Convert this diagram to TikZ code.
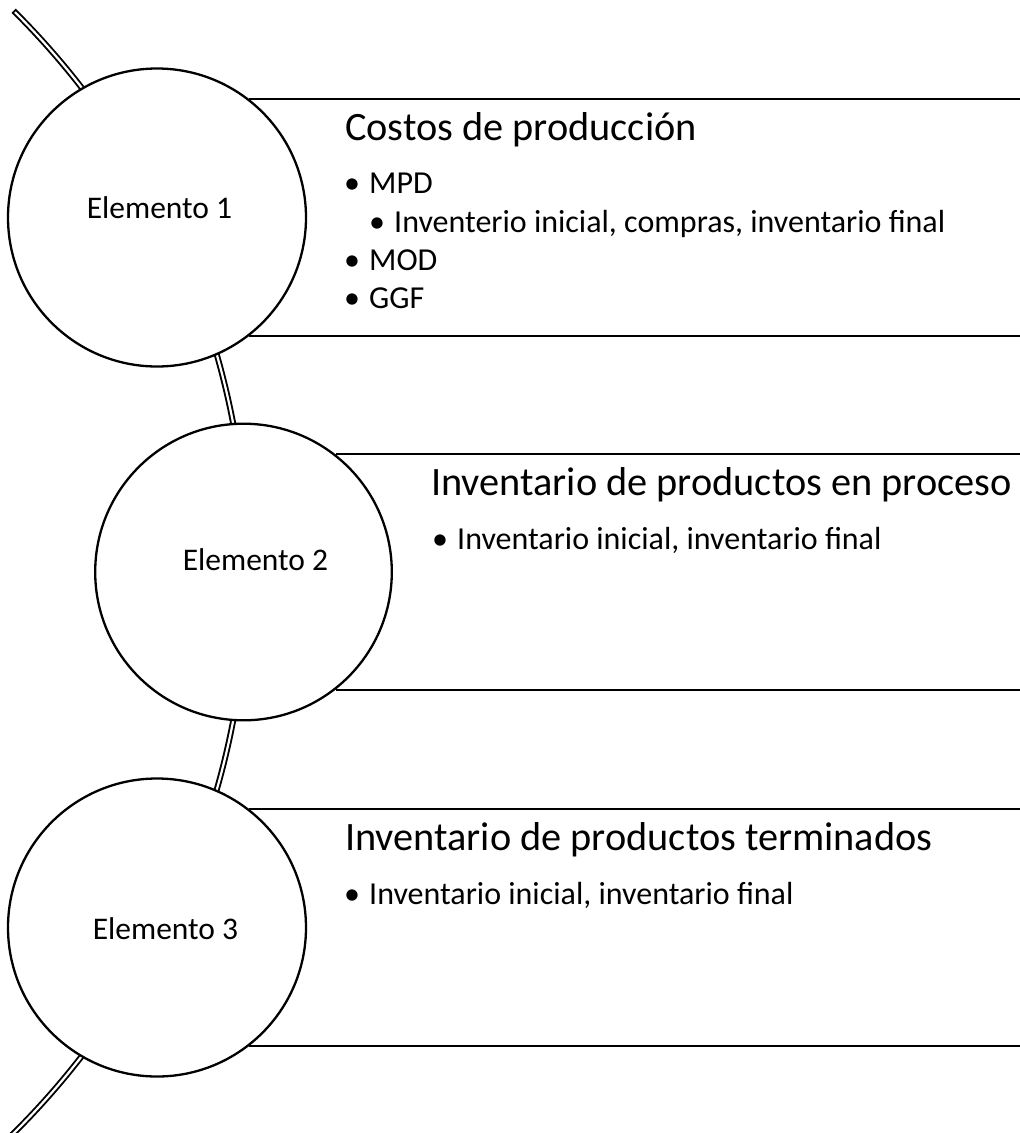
\documentclass[tikz,border=0pt]{standalone}
\usepackage{fontspec}
\setmainfont{Carlito}
\newcommand{\mybul}{\makebox[25pt][l]{\textbullet}}
\begin{document}
\begin{tikzpicture}[x=1pt,y=-1pt,
  elem/.style={circle,draw=black,line width=2.3pt,fill=white,inner sep=0pt},
  elemtext/.style={anchor=base,inner sep=0pt,font=\fontsize{31.5}{37}\selectfont},
  ttl/.style={anchor=base west,inner sep=0pt,font=\fontsize{40.3}{47}\selectfont},
  itm/.style={anchor=base west,inner sep=0pt,font=\fontsize{32}{38}\selectfont},
  rule/.style={line width=2.3pt,draw=black},
  railout/.style={line width=6pt,draw=black},
  railin/.style={line width=2.2pt,draw=white}]
\useasboundingbox (0,0) rectangle (1020,1133);
\clip (0,0) rectangle (1020,1133);

% curved double rail behind the circles
\coordinate (ac) at (-543.7,572);
\draw[railout] (ac) ++(-45.2:791) arc[start angle=-45.2,end angle=45.6,radius=791];
\draw[railin] (ac) ++(-45.06:791) arc[start angle=-45.06,end angle=45.6,radius=791];

% circles
\node[elem,minimum size=298pt] (c1) at (157,217.5) {};
\node[elem,minimum size=296.6pt] (c2) at (243.5,572) {};
\node[elem,minimum size=298pt] (c3) at (157,927.5) {};

\node[elemtext] (e1) at (159.5,218) {Elemento 1};
\node[elemtext] (e2) at (255.5,570) {Elemento 2};
\node[elemtext] (e3) at (165.5,939) {Elemento 3};

% horizontal rules
\coordinate (re) at (1020,0);
\draw[rule] (c1.52.9) -- (c1.52.9 -| re);
\draw[rule] (c1.-52.9) -- (c1.-52.9 -| re);
\draw[rule] (c2.52.7) -- (c2.52.7 -| re);
\draw[rule] (c2.-52.7) -- (c2.-52.7 -| re);
\draw[rule] (c3.52.9) -- (c3.52.9 -| re);
\draw[rule] (c3.-52.9) -- (c3.-52.9 -| re);

% titles
\node[ttl] (t1) at (345,140) {Costos de producción};
\node[ttl] (t2) at (431,495) {Inventario de productos en proceso};
\node[ttl] (t3) at (345,850) {Inventario de productos terminados};

% bullets
\node[itm] (b11) at (344,193) {\mybul MPD};
\node[itm] (b12) at (369,232) {\mybul Inventerio inicial, compras, inventario final};
\node[itm] (b13) at (344,270) {\mybul MOD};
\node[itm] (b14) at (344,308) {\mybul GGF};
\node[itm] (b21) at (432,549) {\mybul Inventario inicial, inventario final};
\node[itm] (b31) at (344,904) {\mybul Inventario inicial, inventario final};
\end{tikzpicture}
\end{document}
